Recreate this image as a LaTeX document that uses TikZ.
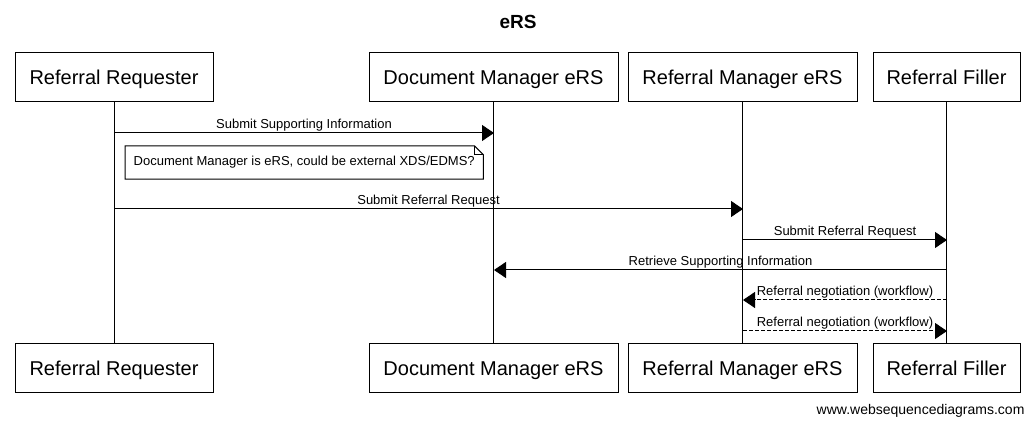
\documentclass[tikz,border=0pt]{standalone}
\usepackage{fontspec}
\setmainfont{Liberation Sans}
\usetikzlibrary{arrows.meta}

\tikzset{
	actor/.style={draw,line width=1pt,minimum height=49pt,inner sep=0pt,text height=19pt,text depth=4pt,
		font=\fontsize{20}{24}\selectfont},
	msg/.style={line width=1pt,-{Triangle[length=12pt,width=16pt]}},
	reply/.style={msg,dash pattern=on 4pt off 2pt},
	msglabel/.style={above,inner sep=1.5pt,font=\fontsize{13}{15}\selectfont}
}

\begin{document}
\begin{tikzpicture}[x=1pt,y=1pt]
	\useasboundingbox (0,0) rectangle (1036,-427);
	\node[font=\bfseries\fontsize{19}{22}\selectfont] (title) at (518,-22) {eRS};
	% participants, top row
	\node[actor,minimum width=198pt] (rqtop) at (114,-77.5) {Referral Requester};
	\node[actor,minimum width=249pt] (dmtop) at (493.5,-77.5) {Document Manager eRS};
	\node[actor,minimum width=229pt] (rmtop) at (742.5,-77.5) {Referral Manager eRS};
	\node[actor,minimum width=147pt] (rftop) at (946.5,-77.5) {Referral Filler};
	% participants, bottom row
	\node[actor,minimum width=198pt] (rqbot) at (114,-368) {Referral Requester};
	\node[actor,minimum width=249pt] (dmbot) at (493.5,-368) {Document Manager eRS};
	\node[actor,minimum width=229pt] (rmbot) at (742.5,-368) {Referral Manager eRS};
	\node[actor,minimum width=147pt] (rfbot) at (946.5,-368) {Referral Filler};
	% lifelines
	\draw[line width=1pt] (rqtop) -- (rqbot);
	\draw[line width=1pt] (dmtop) -- (dmbot);
	\draw[line width=1pt] (rmtop) -- (rmbot);
	\draw[line width=1pt] (rftop) -- (rfbot);
	% message ends
	\coordinate (rq1) at (114,-133);
	\coordinate (dm1) at (494,-133);
	\coordinate (rq2) at (114,-209);
	\coordinate (rm2) at (743,-209);
	\coordinate (rm3) at (743,-240);
	\coordinate (rf3) at (947,-240);
	\coordinate (rf4) at (947,-270);
	\coordinate (dm4) at (494,-270);
	\coordinate (rf5) at (947,-300);
	\coordinate (rm5) at (743,-300);
	\coordinate (rm6) at (743,-331);
	\coordinate (rf6) at (947,-331);
	% messages
	\draw[msg] (rq1) -- node[msglabel] {Submit Supporting Information} (dm1);
	\draw[msg] (rq2) -- node[msglabel] {Submit Referral Request} (rm2);
	\draw[msg] (rm3) -- node[msglabel] {Submit Referral Request} (rf3);
	\draw[msg] (rf4) -- node[msglabel] {Retrieve Supporting Information} (dm4);
	\draw[reply] (rf5) -- node[msglabel] {Referral negotiation (workflow)} (rm5);
	\draw[reply] (rm6) -- node[msglabel] {Referral negotiation (workflow)} (rf6);
	% note
	\node[anchor=west,fill=white,minimum height=33pt,minimum width=358pt,inner sep=0pt,
		font=\fontsize{13}{15}\selectfont] (note) at (125,-162.5) {Document Manager is eRS, could be external XDS/EDMS?};
	\draw[line width=1pt] (note.north west) -- ([xshift=-9pt]note.north east) -- ([yshift=-9pt]note.north east)
		-- (note.south east) -- (note.south west) -- cycle;
	\draw[line width=1pt] ([xshift=-9pt]note.north east) |- ([yshift=-9pt]note.north east);
	\node[anchor=east,font=\fontsize{14}{16}\selectfont] (site) at (1028,-411) {www.websequencediagrams.com};
\end{tikzpicture}
\end{document}
